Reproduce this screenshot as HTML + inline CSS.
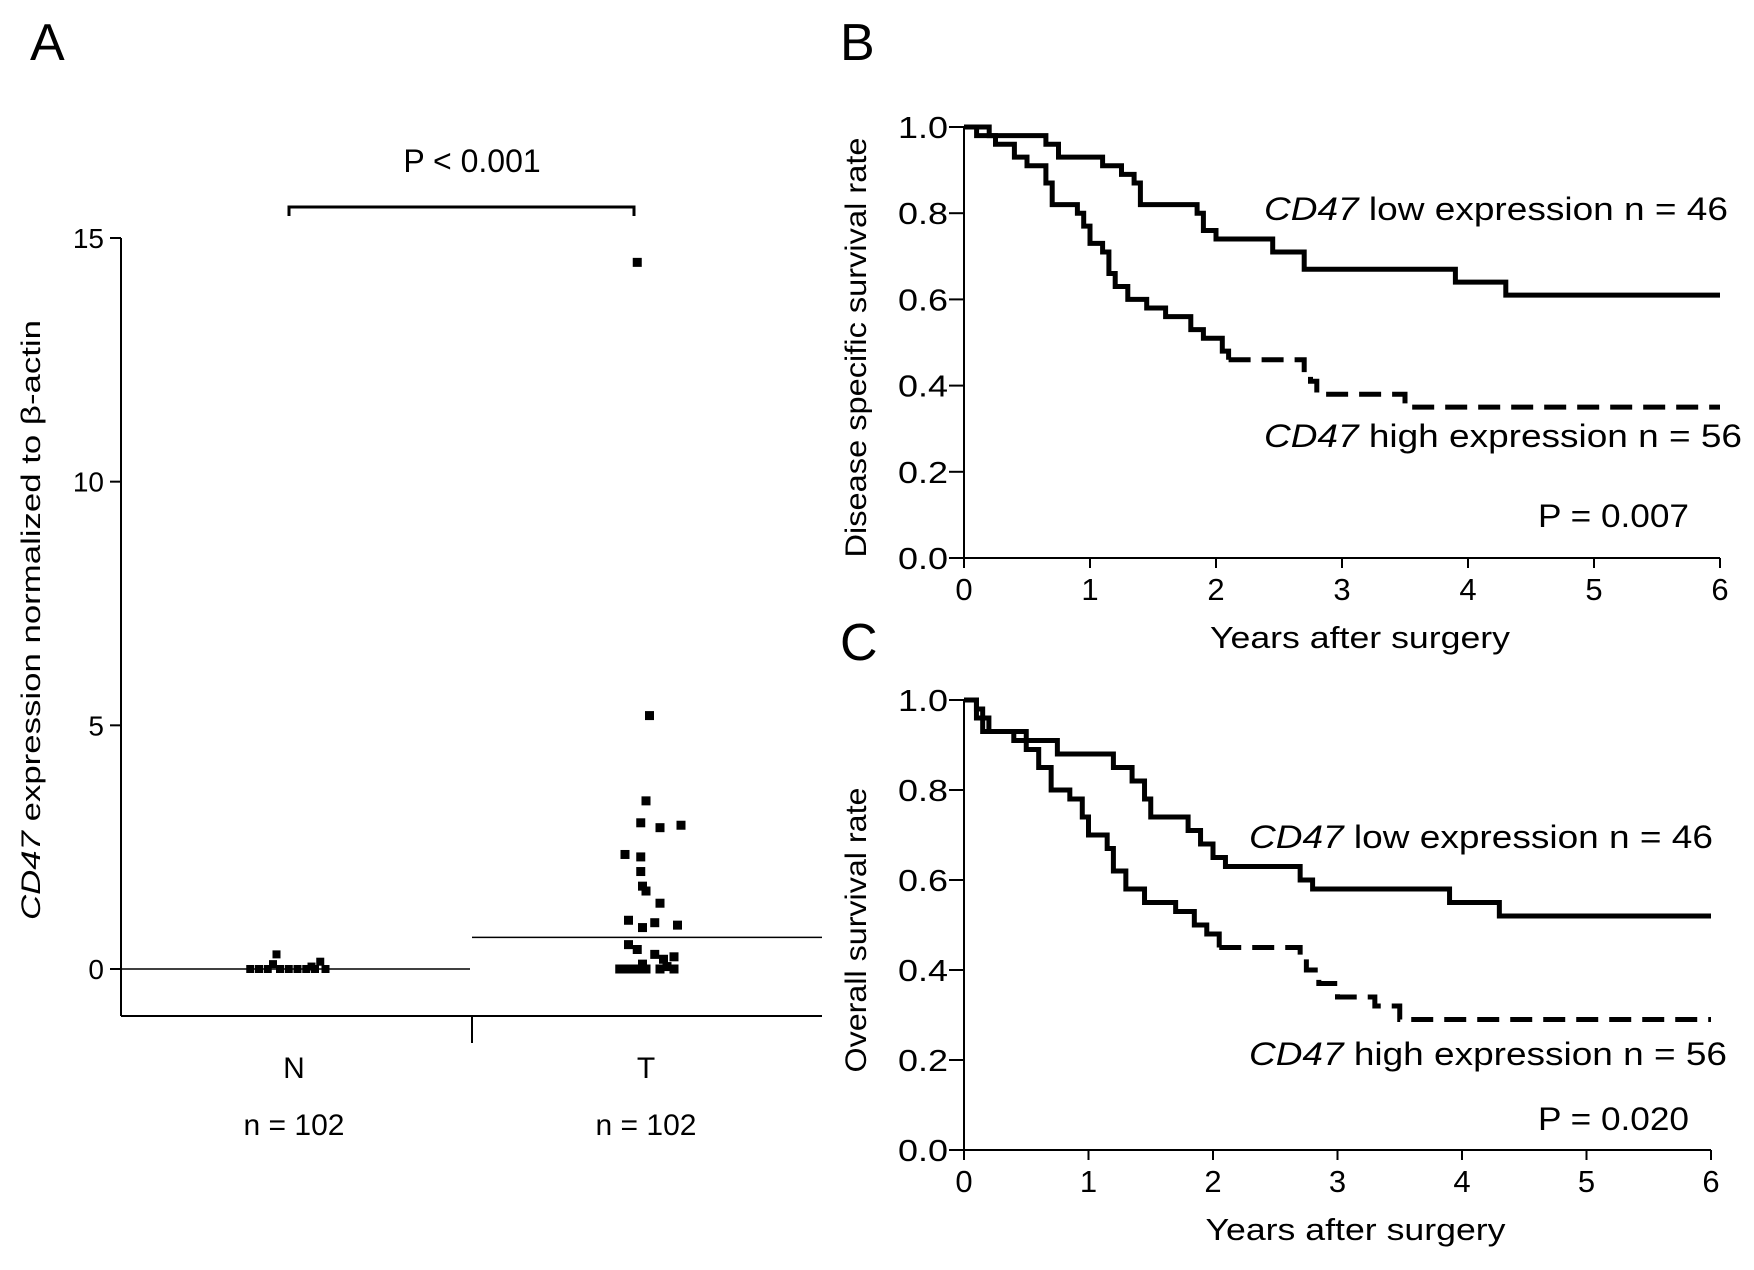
<!DOCTYPE html>
<html><head><meta charset="utf-8"><style>
html,body{margin:0;padding:0;background:#fff;}
svg{display:block;font-family:"Liberation Sans",Arial,sans-serif;}
</style></head><body>
<svg id="fig" width="1754" height="1270" viewBox="0 0 1754 1270" xmlns="http://www.w3.org/2000/svg">
<g id="pa"></g>
<g id="pb"></g>
<g id="pc"></g>
</svg>
<script>
// ---------- Panel A data ----------
const aCategories = ["N", "T"];
const aCounts = ["n = 102", "n = 102"];
const aTicks = [0, 5, 10, 15];
const aMeans = [0, 0.65];
const nValues = [0.3, 0.1, 0.05, 0, 0, 0, 0, 0, 0, 0, 0.15, 0, 0];
const nJitter = [-0.1, -0.12, 0.1, -0.2, -0.15, -0.08, -0.03, 0.02, 0.07, 0.12, 0.15, 0.18, -0.25];
const tValues = [14.5, 5.2, 3.45, 3.0, 2.9, 2.95, 2.35, 2.3, 2.0, 1.7, 1.6, 1.35, 1.0, 0.95, 0.9, 0.85, 0.5, 0.4, 0.3, 0.2, 0.1, 0, 0, 0, 0, 0, 0, 0.25, 0.05];
const tJitter = [-0.05, 0.02, 0.0, -0.03, 0.08, 0.2, -0.12, -0.03, -0.03, -0.02, 0.0, 0.08, -0.1, 0.05, 0.18, -0.02, -0.1, -0.05, 0.05, 0.1, -0.02, -0.15, -0.1, -0.05, 0.0, 0.08, 0.16, 0.16, 0.12];

// ---------- Panel B data ----------
const bLowTimes = [0, 0.2, 0.65, 0.75, 1.1, 1.25, 1.35, 1.4, 1.85, 1.9, 2.0, 2.45, 2.7, 3.9, 4.3, 6];
const bLowSurv = [1.0, 0.98, 0.96, 0.93, 0.91, 0.89, 0.87, 0.82, 0.80, 0.76, 0.74, 0.71, 0.67, 0.64, 0.61, 0.61];
const bHighTimes = [0, 0.1, 0.25, 0.4, 0.5, 0.65, 0.7, 0.9, 0.95, 1.0, 1.1, 1.15, 1.2, 1.3, 1.45, 1.6, 1.8, 1.9, 2.05, 2.1, 2.7, 2.75, 2.8, 3.5, 6];
const bHighSurv = [1.0, 0.98, 0.96, 0.93, 0.91, 0.87, 0.82, 0.80, 0.77, 0.73, 0.71, 0.66, 0.63, 0.60, 0.58, 0.56, 0.53, 0.51, 0.48, 0.46, 0.43, 0.41, 0.38, 0.35, 0.35];

// ---------- Panel C data ----------
const cLowTimes = [0, 0.1, 0.15, 0.5, 0.75, 1.2, 1.35, 1.45, 1.5, 1.8, 1.9, 2.0, 2.1, 2.7, 2.8, 3.9, 4.3, 6];
const cLowSurv = [1.0, 0.98, 0.93, 0.91, 0.88, 0.85, 0.82, 0.78, 0.74, 0.71, 0.68, 0.65, 0.63, 0.60, 0.58, 0.55, 0.52, 0.52];
const cHighTimes = [0, 0.1, 0.2, 0.4, 0.5, 0.6, 0.7, 0.85, 0.95, 1.0, 1.15, 1.2, 1.3, 1.45, 1.7, 1.85, 1.95, 2.05, 2.7, 2.75, 2.85, 3.0, 3.3, 3.5, 6];
const cHighSurv = [1.0, 0.96, 0.93, 0.91, 0.89, 0.85, 0.80, 0.78, 0.74, 0.70, 0.67, 0.62, 0.58, 0.55, 0.53, 0.50, 0.48, 0.45, 0.43, 0.40, 0.37, 0.34, 0.32, 0.29, 0.29];

const xTicksKM = [0, 1, 2, 3, 4, 5, 6];
const yTicksKM = [0, 0.2, 0.4, 0.6, 0.8, 1.0];

const NS = "http://www.w3.org/2000/svg";
function mk(parent, tag, attrs, text) {
  const e = document.createElementNS(NS, tag);
  for (const k in attrs) e.setAttribute(k, attrs[k]);
  if (text !== undefined) e.textContent = text;
  parent.appendChild(e);
  return e;
}

// ---------- Panel A ----------
(function () {
  const g = document.getElementById('pa');
  const y = v => 969 - v * (969 - 238) / 15;
  const cx = i => [294, 646][i];
  const catW = 350;
  let e;
  e = mk(g, 'text', {x: 30, y: 60, 'font-size': 52}, 'A');
   
  e = mk(g, 'line', {x1: 121, y1: 238, x2: 121, y2: 1016, stroke: '#000', 'stroke-width': 2});
   
  e = mk(g, 'line', {x1: 121, y1: 1016, x2: 822, y2: 1016, stroke: '#000', 'stroke-width': 2});
   
  e = mk(g, 'line', {x1: 472, y1: 1016, x2: 472, y2: 1043, stroke: '#000', 'stroke-width': 2});
   
  aTicks.forEach(t => {
    e = mk(g, 'line', {x1: 110, y1: y(t), x2: 121, y2: y(t), stroke: '#000', 'stroke-width': 2});
     
    e = mk(g, 'text', {x: 104, y: y(t) + 10, 'font-size': 28, 'text-anchor': 'end'}, String(t));
     
  });
  e = mk(g, 'text', {transform: 'translate(40,620) rotate(-90)', 'font-size': 27, 'text-anchor': 'middle', textLength: 600, lengthAdjust: 'spacingAndGlyphs'});
   
  mk(e, 'tspan', {'font-style': 'italic'}, 'CD47');
  mk(e, 'tspan', {}, ' expression normalized to β-actin');
  aCategories.forEach((c, i) => {
    e = mk(g, 'text', {x: cx(i), y: 1078, 'font-size': 30, 'text-anchor': 'middle'}, c);
     
    e = mk(g, 'text', {x: cx(i), y: 1135, 'font-size': 30, 'text-anchor': 'middle'}, aCounts[i]);
     
    const x1 = i === 0 ? 121 : 472, x2 = i === 0 ? 470 : 822;
    e = mk(g, 'line', {x1: x1, y1: y(aMeans[i]), x2: x2, y2: y(aMeans[i]), stroke: '#000', 'stroke-width': 1.5});
     
  });
  nValues.forEach((v, i) => {
    e = mk(g, 'rect', {x: cx(0) + nJitter[i] * catW / 2 - 4, y: y(v) - 4, width: 8, height: 8, fill: '#000'});
     
  });
  tValues.forEach((v, i) => {
    e = mk(g, 'rect', {x: cx(1) + tJitter[i] * catW / 2 - 4.5, y: y(v) - 4.5, width: 9, height: 9, fill: '#000'});
     
  });
  e = mk(g, 'path', {d: 'M289 216 V207 H634 V216', fill: 'none', stroke: '#000', 'stroke-width': 3});
   
  e = mk(g, 'text', {x: 472, y: 172, 'font-size': 32, 'text-anchor': 'middle'}, 'P < 0.001');
   
})();

// ---------- KM panels ----------
function km(gid, o) {
  const g = document.getElementById(gid);
  const x = t => o.x0 + t * (o.x6 - o.x0) / 6;
  const y = s => o.y0 - s * (o.y0 - o.y1);
  let e;
  e = mk(g, 'text', {x: 840, y: o.letterY, 'font-size': 52}, o.letter);
   
  e = mk(g, 'line', {x1: o.x0, y1: y(1.0), x2: o.x0, y2: o.y0, stroke: '#000', 'stroke-width': 2});
   
  e = mk(g, 'line', {x1: o.x0 - 15, y1: o.y0, x2: o.x6, y2: o.y0, stroke: '#000', 'stroke-width': 2});
   
  yTicksKM.forEach(t => {
    e = mk(g, 'line', {x1: o.x0 - 15, y1: y(t), x2: o.x0, y2: y(t), stroke: '#000', 'stroke-width': 2});
     
    e = mk(g, 'text', {x: o.x0 - 16, y: y(t) + 11, 'font-size': 31, 'text-anchor': 'end', textLength: 50, lengthAdjust: 'spacingAndGlyphs'}, t.toFixed(1));
     
  });
  xTicksKM.forEach(t => {
    e = mk(g, 'line', {x1: x(t), y1: o.y0, x2: x(t), y2: o.y0 + 10, stroke: '#000', 'stroke-width': 2});
     
    e = mk(g, 'text', {x: x(t), y: o.y0 + 42, 'font-size': 31, 'text-anchor': 'middle'}, String(t));
     
  });
  e = mk(g, 'text', {x: (o.x0 + o.x6) / 2 + 18, y: o.y0 + 90, 'font-size': 31, 'text-anchor': 'middle', textLength: 300, lengthAdjust: 'spacingAndGlyphs'}, 'Years after surgery');
   
  e = mk(g, 'text', {transform: `translate(866,${(y(1) + o.y0) / 2 + 5}) rotate(-90)`, 'font-size': 30, 'text-anchor': 'middle', textLength: o.ytLen, lengthAdjust: 'spacingAndGlyphs'}, o.ytitle);
   
  function curve(ts, ss, name, dashFrom) {
    const lim = dashFrom === undefined ? 99 : dashFrom;
    let d = `M${x(ts[0])} ${y(ss[0])}`;
    let i = 1;
    for (; i < ts.length && ts[i] <= lim; i++) d += ` H${x(ts[i])} V${y(ss[i])}`;
    e = mk(g, 'path', {d: d, fill: 'none', stroke: '#000', 'stroke-width': 5});
     
    if (i < ts.length) {
      let d2 = `M${x(ts[i - 1])} ${y(ss[i - 1])}`;
      for (; i < ts.length; i++) d2 += ` H${x(ts[i])} V${y(ss[i])}`;
      e = mk(g, 'path', {d: d2, fill: 'none', stroke: '#000', 'stroke-width': 5, 'stroke-dasharray': '22 11'});
       
    }
  }
  curve(o.lowT, o.lowS, 'low-expression-curve');
  curve(o.highT, o.highS, 'high-expression-curve', o.dashFrom);
  e = mk(g, 'text', {x: o.legX, y: o.lowLabY, 'font-size': 32, textLength: o.lowLen, lengthAdjust: 'spacingAndGlyphs'});
   
  mk(e, 'tspan', {'font-style': 'italic'}, 'CD47');
  mk(e, 'tspan', {}, '  low expression  n = 46');
  e = mk(g, 'text', {x: o.legX, y: o.highLabY, 'font-size': 32, textLength: o.highLen, lengthAdjust: 'spacingAndGlyphs'});
   
  mk(e, 'tspan', {'font-style': 'italic'}, 'CD47');
  mk(e, 'tspan', {}, '  high expression  n = 56');
  e = mk(g, 'text', {x: 1538, y: o.pY, 'font-size': 32, textLength: 151, lengthAdjust: 'spacingAndGlyphs'}, o.p);
   
}

km('pb', {letter: 'B', letterY: 60, x0: 964, x6: 1720, y0: 558, y1: 127, ytitle: 'Disease specific survival rate', ytLen: 420,
  lowT: bLowTimes, lowS: bLowSurv, highT: bHighTimes, highS: bHighSurv, dashFrom: 2.3,
  legX: 1264, lowLabY: 220, highLabY: 447, lowLen: 464, highLen: 478, p: 'P = 0.007', pY: 527});
km('pc', {letter: 'C', letterY: 660, x0: 964, x6: 1711, y0: 1150, y1: 700, ytitle: 'Overall survival rate', ytLen: 285,
  lowT: cLowTimes, lowS: cLowSurv, highT: cHighTimes, highS: cHighSurv, dashFrom: 2.3,
  legX: 1249, lowLabY: 848, highLabY: 1065, lowLen: 464, highLen: 478, p: 'P = 0.020', pY: 1130});
</script>
</body></html>
